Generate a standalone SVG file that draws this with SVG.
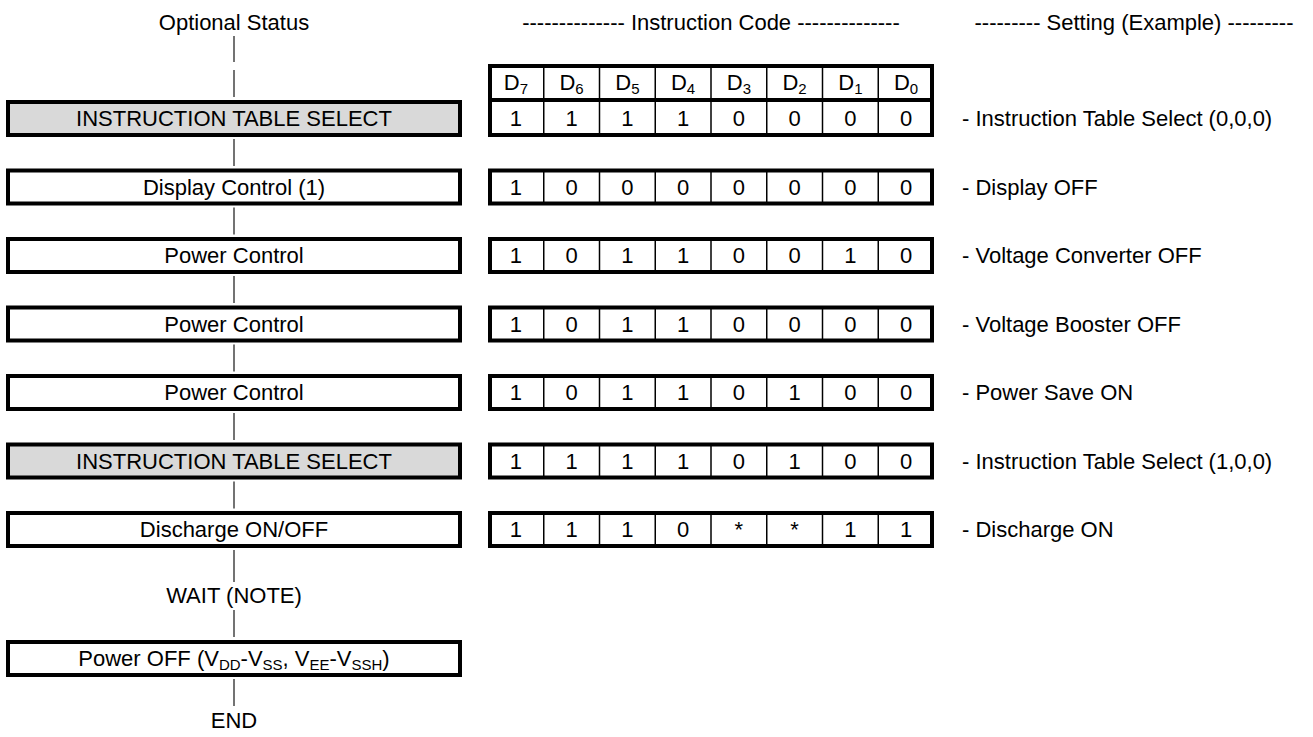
<svg xmlns="http://www.w3.org/2000/svg" width="1313" height="737" viewBox="0 0 1313 737">
<style>
text{font-family:"Liberation Sans",Arial,sans-serif;font-size:22px;fill:#000}
.c{text-anchor:middle}
.box{fill:#fff;stroke:#000;stroke-width:4}
.gbox{fill:#d9d9d9;stroke:#000;stroke-width:4}
.tbl{fill:#fff;stroke:#000;stroke-width:4}
.div{stroke:#000;stroke-width:1.5}
.con{stroke:#444;stroke-width:1.5}
.sub{font-size:15px}
</style>
<rect width="1313" height="737" fill="#fff"/>
<g id="headers">
<text class="c" x="234" y="30">Optional Status</text>
<text class="c" x="711" y="30">-------------- Instruction Code --------------</text>
<text class="c" x="1134" y="30">--------- Setting (Example) ---------</text>
</g>
<g id="connectors">
<line class="con" x1="234" y1="36" x2="234" y2="62"/>
<line class="con" x1="234" y1="70" x2="234" y2="97"/>
<line class="con" x1="234" y1="139" x2="234" y2="166"/>
<line class="con" x1="234" y1="207.5" x2="234" y2="234.5"/>
<line class="con" x1="234" y1="276" x2="234" y2="303"/>
<line class="con" x1="234" y1="344.5" x2="234" y2="371.5"/>
<line class="con" x1="234" y1="413" x2="234" y2="440"/>
<line class="con" x1="234" y1="481.5" x2="234" y2="508.5"/>
<line class="con" x1="234" y1="550" x2="234" y2="582"/>
<line class="con" x1="234" y1="610" x2="234" y2="637"/>
<line class="con" x1="234" y1="679" x2="234" y2="706"/>
</g>
<g id="n0">
<rect class="gbox" x="8" y="102" width="452" height="33"/>
<text class="c" x="234" y="126">INSTRUCTION TABLE SELECT</text>
</g>
<g id="n1">
<rect class="box" x="8" y="170.5" width="452" height="33"/>
<text class="c" x="234" y="194.5">Display Control (1)</text>
</g>
<g id="n2">
<rect class="box" x="8" y="239" width="452" height="33"/>
<text class="c" x="234" y="263">Power Control</text>
</g>
<g id="n3">
<rect class="box" x="8" y="307.5" width="452" height="33"/>
<text class="c" x="234" y="331.5">Power Control</text>
</g>
<g id="n4">
<rect class="box" x="8" y="376" width="452" height="33"/>
<text class="c" x="234" y="400">Power Control</text>
</g>
<g id="n5">
<rect class="gbox" x="8" y="444.5" width="452" height="33"/>
<text class="c" x="234" y="468.5">INSTRUCTION TABLE SELECT</text>
</g>
<g id="n6">
<rect class="box" x="8" y="513" width="452" height="33"/>
<text class="c" x="234" y="537">Discharge ON/OFF</text>
</g>
<g id="n7">
<text class="c" x="234" y="603">WAIT (NOTE)</text>
</g>
<g id="n8">
<rect class="box" x="8" y="642" width="452" height="33"/>
<text class="c" x="234" y="666">Power OFF (V<tspan class="sub" dy="4">DD</tspan><tspan dy="-4">-V</tspan><tspan class="sub" dy="4">SS</tspan><tspan dy="-4">, V</tspan><tspan class="sub" dy="4">EE</tspan><tspan dy="-4">-V</tspan><tspan class="sub" dy="4">SSH</tspan><tspan dy="-4">)</tspan></text>
</g>
<g id="n9">
<text class="c" x="234" y="728">END</text>
</g>
<g id="table0">
<rect class="tbl" x="490" y="66" width="442" height="69"/>
<line x1="488" y1="100" x2="934" y2="100" stroke="#000" stroke-width="4"/>
<g class="div">
<line x1="543.75" y1="66" x2="543.75" y2="135"/><line x1="599.5" y1="66" x2="599.5" y2="135"/><line x1="655.25" y1="66" x2="655.25" y2="135"/><line x1="711" y1="66" x2="711" y2="135"/><line x1="766.75" y1="66" x2="766.75" y2="135"/><line x1="822.5" y1="66" x2="822.5" y2="135"/><line x1="878.25" y1="66" x2="878.25" y2="135"/>
</g>
<text class="c" x="515.9" y="90">D<tspan class="sub" dy="4">7</tspan></text>
<text class="c" x="571.6" y="90">D<tspan class="sub" dy="4">6</tspan></text>
<text class="c" x="627.4" y="90">D<tspan class="sub" dy="4">5</tspan></text>
<text class="c" x="683.1" y="90">D<tspan class="sub" dy="4">4</tspan></text>
<text class="c" x="738.9" y="90">D<tspan class="sub" dy="4">3</tspan></text>
<text class="c" x="794.6" y="90">D<tspan class="sub" dy="4">2</tspan></text>
<text class="c" x="850.4" y="90">D<tspan class="sub" dy="4">1</tspan></text>
<text class="c" x="906.1" y="90">D<tspan class="sub" dy="4">0</tspan></text>
<text class="c" x="515.9" y="126">1</text><text class="c" x="571.6" y="126">1</text><text class="c" x="627.4" y="126">1</text><text class="c" x="683.1" y="126">1</text><text class="c" x="738.9" y="126">0</text><text class="c" x="794.6" y="126">0</text><text class="c" x="850.4" y="126">0</text><text class="c" x="906.1" y="126">0</text>
<text x="962" y="126">- Instruction Table Select (0,0,0)</text>
</g>
<g id="table1">
<rect class="tbl" x="490" y="170.5" width="442" height="33"/>
<g class="div"><line x1="543.75" y1="170.5" x2="543.75" y2="203.5"/><line x1="599.5" y1="170.5" x2="599.5" y2="203.5"/><line x1="655.25" y1="170.5" x2="655.25" y2="203.5"/><line x1="711" y1="170.5" x2="711" y2="203.5"/><line x1="766.75" y1="170.5" x2="766.75" y2="203.5"/><line x1="822.5" y1="170.5" x2="822.5" y2="203.5"/><line x1="878.25" y1="170.5" x2="878.25" y2="203.5"/></g>
<text class="c" x="515.9" y="194.5">1</text><text class="c" x="571.6" y="194.5">0</text><text class="c" x="627.4" y="194.5">0</text><text class="c" x="683.1" y="194.5">0</text><text class="c" x="738.9" y="194.5">0</text><text class="c" x="794.6" y="194.5">0</text><text class="c" x="850.4" y="194.5">0</text><text class="c" x="906.1" y="194.5">0</text>
<text x="962" y="194.5">- Display OFF</text>
</g>
<g id="table2">
<rect class="tbl" x="490" y="239" width="442" height="33"/>
<g class="div"><line x1="543.75" y1="239" x2="543.75" y2="272"/><line x1="599.5" y1="239" x2="599.5" y2="272"/><line x1="655.25" y1="239" x2="655.25" y2="272"/><line x1="711" y1="239" x2="711" y2="272"/><line x1="766.75" y1="239" x2="766.75" y2="272"/><line x1="822.5" y1="239" x2="822.5" y2="272"/><line x1="878.25" y1="239" x2="878.25" y2="272"/></g>
<text class="c" x="515.9" y="263">1</text><text class="c" x="571.6" y="263">0</text><text class="c" x="627.4" y="263">1</text><text class="c" x="683.1" y="263">1</text><text class="c" x="738.9" y="263">0</text><text class="c" x="794.6" y="263">0</text><text class="c" x="850.4" y="263">1</text><text class="c" x="906.1" y="263">0</text>
<text x="962" y="263">- Voltage Converter OFF</text>
</g>
<g id="table3">
<rect class="tbl" x="490" y="307.5" width="442" height="33"/>
<g class="div"><line x1="543.75" y1="307.5" x2="543.75" y2="340.5"/><line x1="599.5" y1="307.5" x2="599.5" y2="340.5"/><line x1="655.25" y1="307.5" x2="655.25" y2="340.5"/><line x1="711" y1="307.5" x2="711" y2="340.5"/><line x1="766.75" y1="307.5" x2="766.75" y2="340.5"/><line x1="822.5" y1="307.5" x2="822.5" y2="340.5"/><line x1="878.25" y1="307.5" x2="878.25" y2="340.5"/></g>
<text class="c" x="515.9" y="331.5">1</text><text class="c" x="571.6" y="331.5">0</text><text class="c" x="627.4" y="331.5">1</text><text class="c" x="683.1" y="331.5">1</text><text class="c" x="738.9" y="331.5">0</text><text class="c" x="794.6" y="331.5">0</text><text class="c" x="850.4" y="331.5">0</text><text class="c" x="906.1" y="331.5">0</text>
<text x="962" y="331.5">- Voltage Booster OFF</text>
</g>
<g id="table4">
<rect class="tbl" x="490" y="376" width="442" height="33"/>
<g class="div"><line x1="543.75" y1="376" x2="543.75" y2="409"/><line x1="599.5" y1="376" x2="599.5" y2="409"/><line x1="655.25" y1="376" x2="655.25" y2="409"/><line x1="711" y1="376" x2="711" y2="409"/><line x1="766.75" y1="376" x2="766.75" y2="409"/><line x1="822.5" y1="376" x2="822.5" y2="409"/><line x1="878.25" y1="376" x2="878.25" y2="409"/></g>
<text class="c" x="515.9" y="400">1</text><text class="c" x="571.6" y="400">0</text><text class="c" x="627.4" y="400">1</text><text class="c" x="683.1" y="400">1</text><text class="c" x="738.9" y="400">0</text><text class="c" x="794.6" y="400">1</text><text class="c" x="850.4" y="400">0</text><text class="c" x="906.1" y="400">0</text>
<text x="962" y="400">- Power Save ON</text>
</g>
<g id="table5">
<rect class="tbl" x="490" y="444.5" width="442" height="33"/>
<g class="div"><line x1="543.75" y1="444.5" x2="543.75" y2="477.5"/><line x1="599.5" y1="444.5" x2="599.5" y2="477.5"/><line x1="655.25" y1="444.5" x2="655.25" y2="477.5"/><line x1="711" y1="444.5" x2="711" y2="477.5"/><line x1="766.75" y1="444.5" x2="766.75" y2="477.5"/><line x1="822.5" y1="444.5" x2="822.5" y2="477.5"/><line x1="878.25" y1="444.5" x2="878.25" y2="477.5"/></g>
<text class="c" x="515.9" y="468.5">1</text><text class="c" x="571.6" y="468.5">1</text><text class="c" x="627.4" y="468.5">1</text><text class="c" x="683.1" y="468.5">1</text><text class="c" x="738.9" y="468.5">0</text><text class="c" x="794.6" y="468.5">1</text><text class="c" x="850.4" y="468.5">0</text><text class="c" x="906.1" y="468.5">0</text>
<text x="962" y="468.5">- Instruction Table Select (1,0,0)</text>
</g>
<g id="table6">
<rect class="tbl" x="490" y="513" width="442" height="33"/>
<g class="div"><line x1="543.75" y1="513" x2="543.75" y2="546"/><line x1="599.5" y1="513" x2="599.5" y2="546"/><line x1="655.25" y1="513" x2="655.25" y2="546"/><line x1="711" y1="513" x2="711" y2="546"/><line x1="766.75" y1="513" x2="766.75" y2="546"/><line x1="822.5" y1="513" x2="822.5" y2="546"/><line x1="878.25" y1="513" x2="878.25" y2="546"/></g>
<text class="c" x="515.9" y="537">1</text><text class="c" x="571.6" y="537">1</text><text class="c" x="627.4" y="537">1</text><text class="c" x="683.1" y="537">0</text><text class="c" x="738.9" y="537">*</text><text class="c" x="794.6" y="537">*</text><text class="c" x="850.4" y="537">1</text><text class="c" x="906.1" y="537">1</text>
<text x="962" y="537">- Discharge ON</text>
</g>
</svg>
